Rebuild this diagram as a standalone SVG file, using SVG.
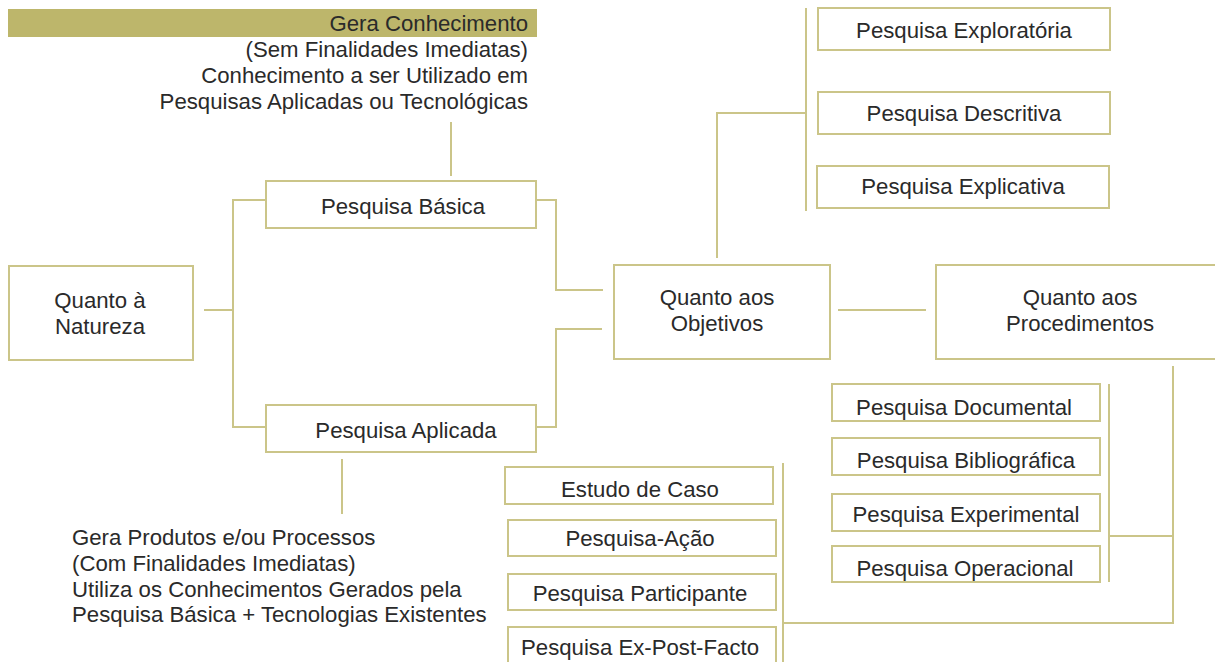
<svg xmlns="http://www.w3.org/2000/svg" width="1215" height="662" viewBox="0 0 1215 662">
<style>
text{font-family:"Liberation Sans",Arial,sans-serif;font-size:22.2px;fill:#2a2a2a}
.b{fill:#fff;stroke:#cbc589;stroke-width:2}
.c{fill:none;stroke:#cbc589;stroke-width:2}
.m{text-anchor:middle}
.e{text-anchor:end}
</style>
<rect width="1215" height="662" fill="#fff"/>
<g id="basica-desc">
<rect x="8" y="9" width="529" height="28" fill="#bdb66b"/>
<text class="e" x="528" y="31">Gera Conhecimento</text>
<text class="e" x="528" y="57">(Sem Finalidades Imediatas)</text>
<text class="e" x="528" y="83">Conhecimento a ser Utilizado em</text>
<text class="e" x="528" y="109">Pesquisas Aplicadas ou Tecnológicas</text>
</g>
<g id="aplicada-desc">
<text x="72" y="545">Gera Produtos e/ou Processos</text>
<text x="72" y="571">(Com Finalidades Imediatas)</text>
<text x="72" y="597">Utiliza os Conhecimentos Gerados pela</text>
<text x="72" y="622">Pesquisa Básica + Tecnologias Existentes</text>
</g>
<g id="connectors">
<path class="c" d="M451 122V176"/>
<path class="c" d="M342 459V514"/>
<path class="c" d="M204 310H233M266 200H233V427H266"/>
<path class="c" d="M536 200H556V290H603M536 427H556V329H602"/>
<path class="c" d="M717 258V113H806M806 8V211"/>
<path class="c" d="M838 310H926"/>
<path class="c" d="M1109 384V582M1109 536H1173M1173 366V623H783M783 463V662"/>
</g>
<g id="natureza"><rect class="b" x="9" y="266" width="184" height="94"/><text class="m" x="100" y="308">Quanto à</text><text class="m" x="100" y="334">Natureza</text></g>
<g id="basica"><rect class="b" x="266" y="181" width="270" height="47"/><text class="m" x="403" y="214">Pesquisa Básica</text></g>
<g id="aplicada"><rect class="b" x="266" y="405" width="270" height="47"/><text class="m" x="406" y="438">Pesquisa Aplicada</text></g>
<g id="objetivos"><rect class="b" x="614" y="265" width="216" height="94"/><text class="m" x="717" y="305">Quanto aos</text><text class="m" x="717" y="331">Objetivos</text></g>
<g id="procedimentos"><rect class="b" x="936" y="265" width="282" height="94"/><text class="m" x="1080" y="305">Quanto aos</text><text class="m" x="1080" y="331">Procedimentos</text></g>
<g id="exploratoria"><rect class="b" x="818" y="8" width="292" height="42"/><text class="m" x="964" y="38">Pesquisa Exploratória</text></g>
<g id="descritiva"><rect class="b" x="818" y="92" width="292" height="42"/><text class="m" x="964" y="121">Pesquisa Descritiva</text></g>
<g id="explicativa"><rect class="b" x="817" y="166" width="292" height="42"/><text class="m" x="963" y="194">Pesquisa Explicativa</text></g>
<g id="documental"><rect class="b" x="832" y="384" width="268" height="37"/><text class="m" x="964" y="415">Pesquisa Documental</text></g>
<g id="bibliografica"><rect class="b" x="832" y="438" width="268" height="37"/><text class="m" x="966" y="468">Pesquisa Bibliográfica</text></g>
<g id="experimental"><rect class="b" x="832" y="494" width="268" height="37"/><text class="m" x="966" y="522">Pesquisa Experimental</text></g>
<g id="operacional"><rect class="b" x="832" y="546" width="268" height="36"/><text class="m" x="965" y="576">Pesquisa Operacional</text></g>
<g id="estudo-caso"><rect class="b" x="505" y="467" width="268" height="37"/><text class="m" x="640" y="497">Estudo de Caso</text></g>
<g id="pesquisa-acao"><rect class="b" x="508" y="520" width="268" height="36"/><text class="m" x="640" y="546">Pesquisa-Ação</text></g>
<g id="participante"><rect class="b" x="508" y="574" width="268" height="36"/><text class="m" x="640" y="601">Pesquisa Participante</text></g>
<g id="ex-post-facto"><rect class="b" x="508" y="627" width="268" height="40"/><text class="m" x="640" y="655">Pesquisa Ex-Post-Facto</text></g>
</svg>
